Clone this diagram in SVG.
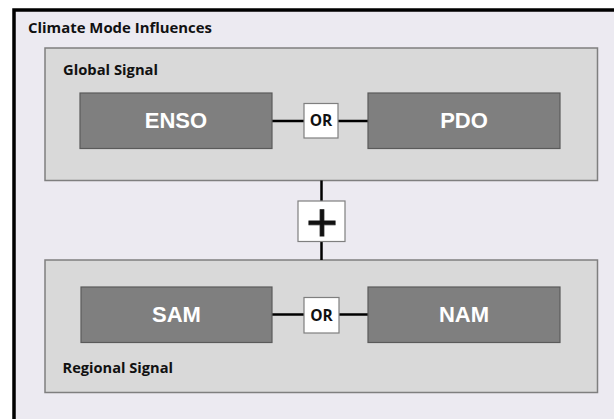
<svg xmlns="http://www.w3.org/2000/svg" width="614" height="419" viewBox="0 0 614 419">
<defs>
<style>
.panel{fill:#D9D9D9;stroke:#7F7F7F;stroke-width:1.5}
.block{fill:#7F7F7F;stroke:#5A5A5A;stroke-width:1.2}
.blabel{font-family:"Liberation Sans",Arial,sans-serif;font-weight:bold;font-size:22px;fill:#FFFFFF;text-anchor:middle}
.orbox{fill:#FFFFFF;stroke:#7F7F7F;stroke-width:1.2}
.ortext{font-family:"Open Sans","Noto Sans",sans-serif;font-weight:bold;font-size:15.5px;fill:#111111;text-anchor:middle}
.ptitle{font-family:"Open Sans","Noto Sans",sans-serif;font-weight:bold;font-size:15px;fill:#111111}
.conn{stroke:#000000;stroke-width:2.5;fill:none}
</style>
</defs>
<rect x="0" y="0" width="614" height="419" fill="#FFFFFF"/>
<rect id="frame" x="14" y="10" width="700" height="500" fill="#ECEAF1" stroke="#000000" stroke-width="3.5"/>
<text class="ptitle" x="28" y="33.3" textLength="184" lengthAdjust="spacingAndGlyphs">Climate Mode Influences</text>

<g id="global-signal">
<rect class="panel" x="45" y="48" width="552.5" height="132.5"/>
<text class="ptitle" x="63" y="75" textLength="95" lengthAdjust="spacingAndGlyphs">Global Signal</text>
</g>
<g id="regional-signal">
<rect class="panel" x="45" y="260" width="552.5" height="132.5"/>
<text class="ptitle" x="62.5" y="373.3" textLength="110.5" lengthAdjust="spacingAndGlyphs">Regional Signal</text>
</g>

<g id="connectors">
<line class="conn" x1="272" y1="121" x2="304" y2="121"/>
<line class="conn" x1="338" y1="121" x2="368" y2="121"/>
<line class="conn" x1="272" y1="314.5" x2="304" y2="314.5"/>
<line class="conn" x1="339" y1="314.5" x2="368" y2="314.5"/>
<line class="conn" x1="321.5" y1="180.5" x2="321.5" y2="201"/>
<line class="conn" x1="321.5" y1="241.5" x2="321.5" y2="260"/>
</g>

<g id="enso">
<rect class="block" x="80" y="93" width="192" height="55.5"/>
<text class="blabel" x="176" y="128.3">ENSO</text>
</g>
<g id="pdo">
<rect class="block" x="368" y="93" width="192" height="55.5"/>
<text class="blabel" x="464" y="128.3">PDO</text>
</g>
<g id="or-top">
<rect class="orbox" x="304" y="103.5" width="34" height="34.5"/>
<text class="ortext" x="321" y="126.2">OR</text>
</g>

<g id="plus">
<rect class="orbox" x="298" y="201" width="47" height="40.5"/>
<text x="322" y="241" font-family="Liberation Sans,Arial,sans-serif" font-size="54" fill="#111111" stroke="#111111" stroke-width="0.8" text-anchor="middle">+</text>
</g>

<g id="sam">
<rect class="block" x="81" y="287" width="191" height="55.5"/>
<text class="blabel" x="176.5" y="322.3">SAM</text>
</g>
<g id="nam">
<rect class="block" x="368" y="287" width="192" height="55.5"/>
<text class="blabel" x="464" y="322.3">NAM</text>
</g>
<g id="or-bottom">
<rect class="orbox" x="304" y="297.5" width="35" height="35.5"/>
<text class="ortext" x="321.5" y="320.7">OR</text>
</g>
</svg>
